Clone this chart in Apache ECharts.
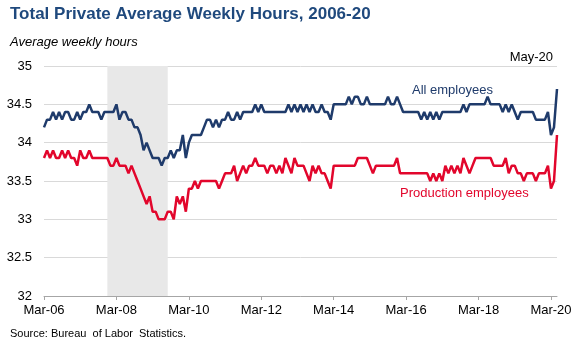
<!DOCTYPE html>
<html>
<head>
<meta charset="utf-8">
<script src="https://cdn.jsdelivr.net/npm/echarts@6/dist/echarts.min.js"></script>
<style>html,body{margin:0;padding:0;background:#fff;}#c{width:576px;height:346px;}</style>
</head>
<body>
<div id="c"></div>
<script>
// Monthly categories Mar-06 .. May-20
var monthNames = ['Jan','Feb','Mar','Apr','May','Jun','Jul','Aug','Sep','Oct','Nov','Dec'];
var categories = [];
for (var y = 2006; y <= 2020; y++) {
  for (var m = 0; m < 12; m++) {
    if (y === 2006 && m < 2) continue;
    if (y === 2020 && m > 4) continue;
    categories.push(monthNames[m] + '-' + String(y).slice(2));
  }
}
var xTickLabels = ['Mar-06','Mar-08','Mar-10','Mar-12','Mar-14','Mar-16','Mar-18','Mar-20'];
var yTicks = [32, 32.5, 33, 33.5, 34, 34.5, 35];

// All employees, average weekly hours
var allEmployees = [
  34.2, 34.3, 34.3, 34.4, 34.3, 34.4, 34.3, 34.4, 34.4, 34.3,             // 2006 Mar-Dec
  34.3, 34.4, 34.3, 34.4, 34.4, 34.5, 34.4, 34.4, 34.4, 34.3, 34.4, 34.4, // 2007
  34.4, 34.4, 34.5, 34.3, 34.4, 34.4, 34.3, 34.3, 34.2, 34.2, 34.1, 33.9, // 2008
  34.0, 33.9, 33.8, 33.8, 33.8, 33.7, 33.8, 33.8, 33.9, 33.8, 33.9, 33.9, // 2009
  34.1, 33.8, 34.0, 34.1, 34.1, 34.1, 34.1, 34.2, 34.3, 34.3, 34.2, 34.3, // 2010
  34.2, 34.3, 34.3, 34.4, 34.3, 34.3, 34.4, 34.3, 34.4, 34.4, 34.4, 34.4, // 2011
  34.5, 34.4, 34.5, 34.4, 34.4, 34.4, 34.4, 34.4, 34.4, 34.4, 34.4, 34.5, // 2012
  34.4, 34.5, 34.4, 34.5, 34.4, 34.5, 34.4, 34.5, 34.4, 34.4, 34.5, 34.4, // 2013
  34.4, 34.3, 34.5, 34.5, 34.5, 34.5, 34.5, 34.6, 34.5, 34.6, 34.6, 34.5, // 2014
  34.5, 34.6, 34.5, 34.5, 34.5, 34.5, 34.5, 34.5, 34.6, 34.5, 34.5, 34.6, // 2015
  34.5, 34.4, 34.4, 34.4, 34.4, 34.4, 34.4, 34.3, 34.4, 34.3, 34.4, 34.3, // 2016
  34.4, 34.3, 34.4, 34.4, 34.4, 34.4, 34.4, 34.4, 34.4, 34.5, 34.4, 34.5, // 2017
  34.5, 34.5, 34.5, 34.5, 34.5, 34.6, 34.5, 34.5, 34.5, 34.5, 34.4, 34.5, // 2018
  34.4, 34.5, 34.4, 34.3, 34.4, 34.4, 34.4, 34.4, 34.4, 34.3, 34.3, 34.3, // 2019
  34.3, 34.4, 34.1, 34.2, 34.7                                            // 2020 Jan-May
];

// Production and nonsupervisory employees, average weekly hours
var productionEmployees = [
  33.8, 33.9, 33.8, 33.9, 33.8, 33.8, 33.9, 33.8, 33.9, 33.8,             // 2006 Mar-Dec
  33.8, 33.7, 33.9, 33.8, 33.8, 33.9, 33.8, 33.8, 33.8, 33.8, 33.8, 33.8, // 2007
  33.7, 33.7, 33.8, 33.7, 33.7, 33.7, 33.6, 33.7, 33.6, 33.5, 33.4, 33.3, // 2008
  33.2, 33.3, 33.1, 33.1, 33.0, 33.0, 33.0, 33.1, 33.1, 33.0, 33.3, 33.2, // 2009
  33.3, 33.1, 33.4, 33.4, 33.5, 33.4, 33.5, 33.5, 33.5, 33.5, 33.5, 33.5, // 2010
  33.4, 33.5, 33.6, 33.6, 33.6, 33.7, 33.5, 33.6, 33.7, 33.6, 33.7, 33.7, // 2011
  33.8, 33.7, 33.7, 33.7, 33.6, 33.7, 33.7, 33.6, 33.7, 33.6, 33.8, 33.7, // 2012
  33.6, 33.8, 33.7, 33.7, 33.7, 33.6, 33.5, 33.7, 33.6, 33.7, 33.6, 33.6, // 2013
  33.5, 33.4, 33.7, 33.7, 33.7, 33.7, 33.7, 33.7, 33.7, 33.7, 33.8, 33.8, // 2014
  33.8, 33.8, 33.7, 33.6, 33.7, 33.7, 33.7, 33.7, 33.7, 33.7, 33.7, 33.8, // 2015
  33.6, 33.6, 33.6, 33.6, 33.6, 33.6, 33.6, 33.6, 33.6, 33.6, 33.5, 33.6, // 2016
  33.5, 33.6, 33.5, 33.7, 33.6, 33.7, 33.6, 33.7, 33.6, 33.8, 33.7, 33.6, // 2017
  33.7, 33.8, 33.8, 33.8, 33.8, 33.8, 33.8, 33.7, 33.7, 33.7, 33.7, 33.8, // 2018
  33.6, 33.7, 33.7, 33.6, 33.6, 33.5, 33.6, 33.6, 33.6, 33.5, 33.6, 33.6, // 2019
  33.6, 33.7, 33.4, 33.5, 34.1                                            // 2020 Jan-May
];

var recession = ['Dec-07', 'Aug-09'];

var FONT = 'Liberation Sans, Arial, sans-serif';
var navy = '#1F3B6B';
var red = '#E2062C';

var chart = echarts.init(document.getElementById('c'), null, {renderer: 'canvas'});
chart.setOption({
  animation: false,
  backgroundColor: '#fff',
  textStyle: {fontFamily: FONT},
  grid: {left: 44, right: 19, top: 66, bottom: 50, containLabel: false},
  xAxis: {
    type: 'category',
    data: categories,
    boundaryGap: false,
    axisLine: {show: true, lineStyle: {color: '#A6A6A6', width: 1}},
    axisTick: {
      show: true, length: 4, lineStyle: {color: '#A6A6A6'},
      interval: function (i, v) { return xTickLabels.indexOf(v) >= 0; }
    },
    axisLabel: {
      color: '#000', fontSize: 13, fontFamily: FONT, margin: 8,
      interval: function (i, v) { return xTickLabels.indexOf(v) >= 0; }
    },
    splitLine: {show: false}
  },
  yAxis: {
    type: 'value',
    min: yTicks[0], max: yTicks[yTicks.length - 1], interval: 0.5,
    axisLine: {show: false},
    axisTick: {show: false},
    axisLabel: {color: '#000', fontSize: 13, fontFamily: FONT, margin: 12},
    splitLine: {show: true, lineStyle: {color: '#D9D9D9', width: 1}}
  },
  series: [
    {
      name: 'All employees',
      type: 'line',
      data: allEmployees,
      symbol: 'none',
      lineStyle: {color: navy, width: 2.5},
      z: 3,
      markArea: {
        silent: true,
        itemStyle: {color: '#E8E8E8'},
        data: [[{xAxis: recession[0]}, {xAxis: recession[1]}]]
      }
    },
    {
      name: 'Production employees',
      type: 'line',
      data: productionEmployees,
      symbol: 'none',
      lineStyle: {color: red, width: 2.5},
      z: 3
    }
  ],
  graphic: [
    {type: 'text', left: 10, top: 6, style: {text: 'Total Private Average Weekly Hours, 2006-20', fill: '#1F497D', font: 'bold 17px ' + FONT}},
    {type: 'text', left: 10, top: 36, style: {text: 'Average weekly hours', fill: '#000', font: 'italic 13px ' + FONT}},
    {type: 'text', right: 23, top: 51, style: {text: 'May-20', fill: '#000', font: '13px ' + FONT}},
    {type: 'text', left: 412, top: 84, style: {text: 'All employees', fill: navy, font: '13px ' + FONT}},
    {type: 'text', left: 400, top: 187, style: {text: 'Production employees', fill: red, font: '13px ' + FONT}},
    {type: 'text', left: 10, top: 328, style: {text: 'Source: Bureau  of Labor  Statistics.', fill: '#000', font: '11px ' + FONT}}
  ]
});
</script>
</body>
</html>
